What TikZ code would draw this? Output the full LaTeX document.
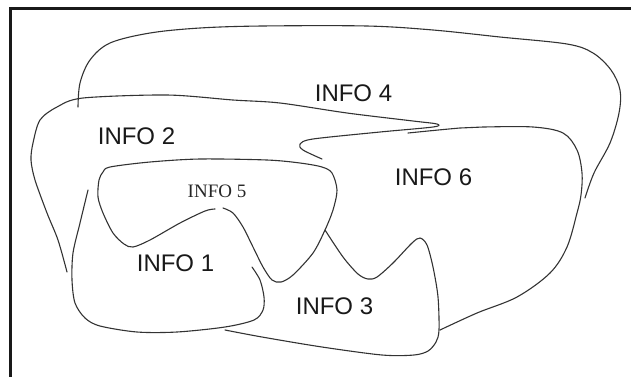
\documentclass[tikz,border=0pt]{standalone}
\usepackage{fontspec}
\setmainfont{Liberation Sans}
\newfontfamily\seriffont{Liberation Serif}
\begin{document}
\begin{tikzpicture}[x=1pt,y=-1pt,
  region/.style={draw=black!80,line width=1.1pt,line cap=round,line join=round},
  lbl/.style={inner sep=0pt,text=black!90,font=\fontsize{24}{24}\selectfont},
  smalllbl/.style={inner sep=0pt,text=black!85,font=\seriffont\fontsize{19}{19}\selectfont}]
\useasboundingbox (0,0) rectangle (631,376);
% frame
\draw[line width=3pt,black!90] (10,380) -- (10,8.7) -- (640,8.7);
% outer region (INFO 4)
\draw[region] plot[smooth,tension=0.55] coordinates {(78,107) (80,83) (90,60) (110,43) (150,33) (200,28) (262,26) (367,26) (433,30) (500,37) (567,44) (593,53) (611,70) (620,90) (619,113) (610,143) (594,173) (585,198)};
% INFO 2 with its hook
\draw[region] plot[smooth,tension=0.5] coordinates {(67,272) (58,240) (47,213) (35,180) (31,160) (33,143) (40,120) (57,107) (83,98) (167,95) (233,100) (280,103) (347,113) (413,121) (437,124) (433,127) (380,132) (313,139) (300,144) (303,150) (322,159)};
% INFO 6
\draw[region] plot[smooth,tension=0.55] coordinates {(408,133) (460,128) (483,127) (533,127) (563,133) (577,150) (582,173) (581,195) (577,213) (567,247) (550,273) (517,297) (477,313) (440,330)};
% INFO 5
\draw[region] plot[smooth,tension=0.5] coordinates {(215,209) (205,211) (180,223) (150,240) (133,247) (124,244) (113,233) (103,213) (98,197) (99,180) (103,172) (110,167) (150,162) (200,159) (267,160) (300,163) (322,167) (332,173) (337,190) (333,210) (325,230) (313,253) (293,275) (281,282) (272,280) (263,267) (253,247) (243,227) (233,213) (223,208)};
% INFO 3
\draw[region] plot[smooth,tension=0.5] coordinates {(325,230) (343,257) (358,274) (368,279) (377,277) (393,263) (412,243) (420,238) (427,245) (433,267) (438,297) (439,330) (436,342) (428,351) (414,355) (382,355) (322,347) (262,337) (225,330)};
% INFO 1
\draw[region] plot[smooth,tension=0.5] coordinates {(88,190) (80,223) (73,253) (72,280) (75,303) (85,318) (100,326) (137,332) (177,332) (225,327) (254,320) (263,310) (264,297) (260,280) (252,267)};
% labels
\node[lbl] (i4) at (353.5,93.5) {INFO 4};
\node[lbl] (i2) at (136.5,136) {INFO 2};
\node[lbl] (i6) at (433.5,177) {INFO 6};
\node[lbl] (i1) at (175.5,263) {INFO 1};
\node[lbl] (i3) at (334.5,306.5) {INFO 3};
\node[smalllbl] (i5) at (217,191) {INFO 5};
\end{tikzpicture}
\end{document}
